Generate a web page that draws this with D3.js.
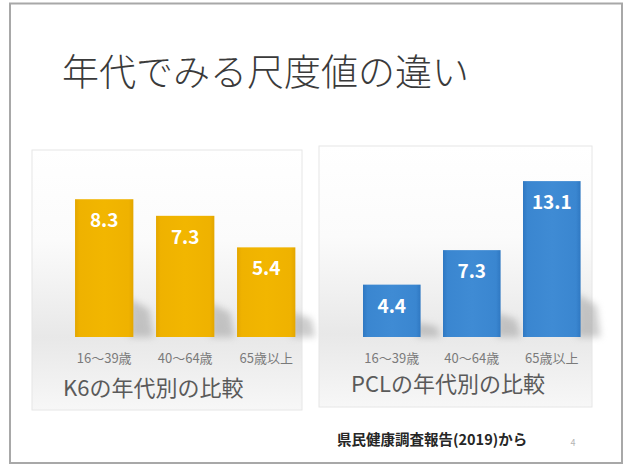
<!DOCTYPE html>
<html>
<head>
<meta charset="utf-8">
<script src="https://cdn.jsdelivr.net/npm/d3@7"></script>
<style>
  html, body { margin: 0; padding: 0; background: #fff; }
  svg { display: block; font-family: "Noto Sans CJK JP", "Noto Sans", sans-serif; }
</style>
</head>
<body>
<svg id="slide" width="625" height="466"></svg>
<script>
// Age groups shared by both charts
const ageGroups = ["16〜39歳", "40〜64歳", "65歳以上"];
// Mean scale scores per age group
const k6Values = [8.3, 7.3, 5.4];
const pclValues = [4.4, 7.3, 13.1];
// Text
const slideTitle = "年代でみる尺度値の違い";
const k6Title = "K6の年代別の比較";
const pclTitle = "PCLの年代別の比較";
const sourceNote = "県民健康調査報告(2019)から";
const pageNumber = "4";

const svg = d3.select("#slide");
const defs = svg.append("defs");

// panel background: white fading to a light grey floor
const bg = defs.append("linearGradient").attr("id", "panelBg")
  .attr("x1", 0).attr("y1", 0).attr("x2", 0).attr("y2", 1);
bg.append("stop").attr("offset", "0%").attr("stop-color", "#ffffff");
bg.append("stop").attr("offset", "35%").attr("stop-color", "#fbfbfb");
bg.append("stop").attr("offset", "72%").attr("stop-color", "#e8e8e8");
bg.append("stop").attr("offset", "100%").attr("stop-color", "#f7f7f7");

defs.append("filter").attr("id", "soft")
  .attr("x", "-50%").attr("y", "-50%").attr("width", "200%").attr("height", "200%")
  .append("feGaussianBlur").attr("stdDeviation", 3.5);

function barGradient(id, light, mid, dark) {
  const g = defs.append("linearGradient").attr("id", id)
    .attr("x1", 0).attr("y1", 0).attr("x2", 1).attr("y2", 0);
  g.append("stop").attr("offset", "0%").attr("stop-color", dark);
  g.append("stop").attr("offset", "8%").attr("stop-color", mid);
  g.append("stop").attr("offset", "50%").attr("stop-color", light);
  g.append("stop").attr("offset", "92%").attr("stop-color", mid);
  g.append("stop").attr("offset", "100%").attr("stop-color", dark);
}
barGradient("gold", "#f2b600", "#efb200", "#e3a600");
barGradient("blue", "#3f8bd4", "#3a86d0", "#2f78c2");

// slide frame
svg.append("rect").attr("x", 10).attr("y", 3.5).attr("width", 612).attr("height", 459.5)
  .attr("fill", "#fff").attr("stroke", "#a8a8a8").attr("stroke-width", 2);

svg.append("text").attr("x", 62).attr("y", 86)
  .attr("font-size", 37).attr("font-weight", 300).attr("fill", "#3a3a3a")
  .text(slideTitle);

function panel(cfg) {
  const g = svg.append("g");
  g.append("rect").attr("x", cfg.box[0]).attr("y", cfg.box[1])
    .attr("width", cfg.box[2]).attr("height", cfg.box[3])
    .attr("fill", "url(#panelBg)").attr("stroke", "#e6e6e6").attr("stroke-width", 1);

  const x = d3.scaleBand().domain(ageGroups).range(cfg.xRange)
    .paddingInner(0.28).paddingOuter(0.14);
  const y = d3.scaleLinear().domain(cfg.yDomain).range(cfg.yRange);
  const data = ageGroups.map((k, i) => ({ k, v: cfg.values[i] }));
  const base = y(0);

  // cast shadows on the floor behind each bar
  g.selectAll(".shadow").data(data).join("path")
    .attr("fill", "#9a9a9a").attr("opacity", 0.5).attr("filter", "url(#soft)")
    .attr("d", d => {
      const x1 = x(d.k) + x.bandwidth();
      const h = base - y(d.v);
      return `M${x1 - 4},${base} L${x1 - 4},${base - h * 0.28} L${x1 + 16},${base - h * 0.2} L${x1 + 20},${base} Z`;
    });

  g.selectAll(".bar").data(data).join("rect")
    .attr("x", d => x(d.k)).attr("width", x.bandwidth())
    .attr("y", d => y(d.v)).attr("height", d => base - y(d.v))
    .attr("fill", cfg.fill);

  g.selectAll(".val").data(data).join("text")
    .attr("x", d => x(d.k) + x.bandwidth() / 2)
    .attr("y", d => y(d.v) + 28)
    .attr("text-anchor", "middle").attr("font-size", 19).attr("font-weight", 700)
    .attr("fill", "#ffffff")
    .text(d => d.v.toFixed(1));

  g.selectAll(".cat").data(data).join("text")
    .attr("x", d => x(d.k) + x.bandwidth() / 2)
    .attr("y", cfg.catY)
    .attr("text-anchor", "middle").attr("font-size", 13).attr("fill", "#7a7a7a")
    .text(d => d.k);

  g.append("text").attr("x", cfg.titleX).attr("y", cfg.titleY)
    .attr("font-size", 22).attr("fill", "#5a5a5a")
    .text(cfg.title);
}

panel({
  box: [32, 150, 270, 260], xRange: [63.7, 306.7], yDomain: [0, 10], yRange: [337, 171],
  values: k6Values, fill: "url(#gold)", catY: 363, title: k6Title, titleX: 63, titleY: 396
});
panel({
  box: [319, 146, 273, 261], xRange: [351.8, 591.8], yDomain: [0, 15], yRange: [337, 158.5],
  values: pclValues, fill: "url(#blue)", catY: 363, title: pclTitle, titleX: 351, titleY: 392
});

svg.append("text").attr("x", 337).attr("y", 445)
  .attr("font-size", 14.5).attr("font-weight", 700).attr("fill", "#262626")
  .text(sourceNote);
svg.append("text").attr("x", 573).attr("y", 446)
  .attr("font-size", 9).attr("fill", "#b5b5b5").attr("text-anchor", "middle")
  .text(pageNumber);
</script>
</body>
</html>
